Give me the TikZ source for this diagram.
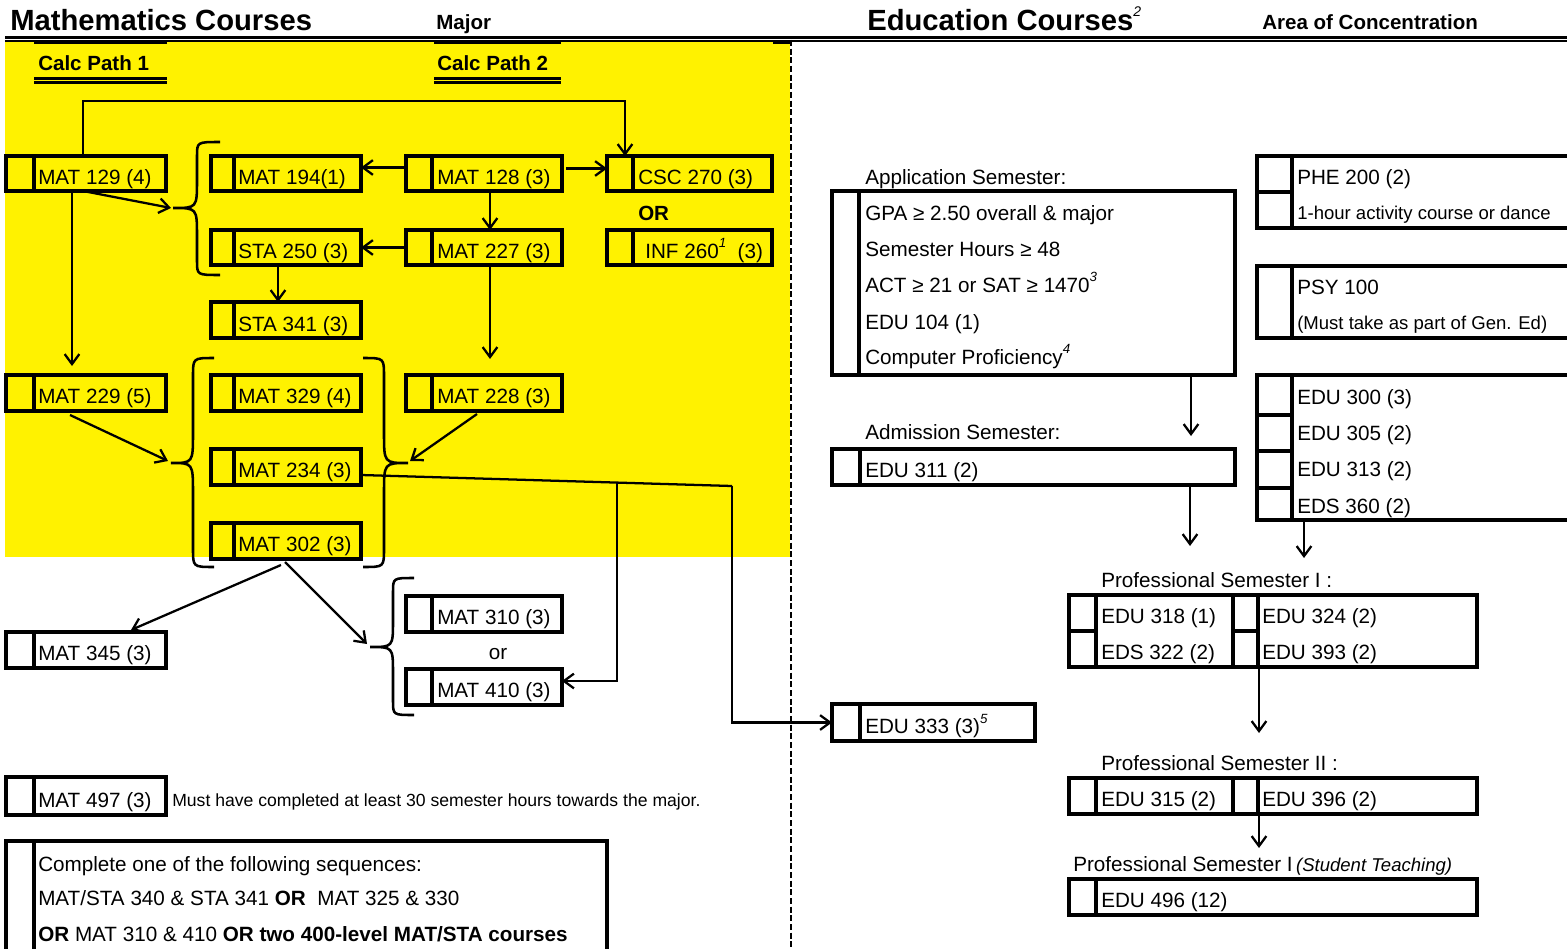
\documentclass[tikz,border=0pt]{standalone}
\usepackage{fontspec}
\setmainfont{Liberation Sans}
\usetikzlibrary{calc,arrows.meta}
\definecolor{hlyellow}{RGB}{255,242,0}
\tikzset{
 cbox/.style={draw, line width=3pt, rectangle, inner sep=0pt, outer sep=0pt, anchor=north west},
 divl/.style={line width=3pt},
 ctxt/.style={font=\fontsize{15.5}{18}\selectfont, inner sep=0pt, anchor=base west},
 stxt/.style={font=\fontsize{13.9}{16}\selectfont, inner sep=0pt, anchor=base west},
 ttl/.style={font=\fontsize{21.9}{24}\selectfont\bfseries, inner sep=0pt, anchor=base west},
 hdr/.style={font=\fontsize{15.4}{18}\selectfont\bfseries, inner sep=0pt, anchor=base west},
 arr/.style={line width=1.7pt, -{Straight Barb[length=7.5pt,width=11pt]}},
 conn/.style={line width=1.7pt},
 brcline/.style={line width=1.9pt},
 hline/.style={line width=1.9pt},
}
\newcommand{\cbx}[6]{%
 \node[cbox, minimum width={(#4-#2-4)*0.75pt}, minimum height={(#5-#3-4)*0.75pt}] (#1) at ({#2+2},{#3+2}) {};
 \draw[divl] ($(#1.north west)+({#6-2},0)$) -- ($(#1.south west)+({#6-2},0)$);}
\newcommand{\mybrace}[8]{%
 \draw[brcline] (#1,#2) .. controls (#4,#2) .. (#4,{#2+#7}) -- (#4,{#6-#8}) .. controls (#4,#6) .. (#5,#6) .. controls (#4,#6) .. (#4,{#6+#8}) -- (#4,{#3-#7}) .. controls (#4,#3) .. (#1,#3);}
\newcommand{\sups}[1]{\raisebox{0.5em}{\fontsize{10}{10}\selectfont\itshape #1}}
\begin{document}
\begin{tikzpicture}[x=0.75pt,y=-0.75pt]
\useasboundingbox (0,0) rectangle (1567,949);
\begin{scope}
\clip (0,0) rectangle (1567,949);
\fill[hlyellow] (5,41) rectangle (790,557);
% header lines
\draw[line width=2.1pt] (5,37.8) -- (1567,37.8);
\draw[line width=1.1pt] (5,41.2) -- (1567,41.2);
\draw[line width=1.6pt, dash pattern=on 4.5pt off 2pt] (791,40) -- (791,949);
% calc path rules
\draw[hline] (34,42.8) -- (167,42.8);
\draw[hline] (34,78.3) -- (167,78.3);
\draw[hline] (34,82.3) -- (167,82.3);
\draw[hline] (434,42.8) -- (561,42.8);
\draw[hline] (434,78.3) -- (561,78.3);
\draw[hline] (434,82.3) -- (561,82.3);
\draw[hline] (773,42.8) -- (790,42.8);
% titles
\node[ttl] (tmath) at (10,31) {Mathematics Courses};
\node[hdr] (tmajor) at (436,30) {Major};
\node[ttl] (tedu) at (867,31) {Education Courses\raisebox{11pt}{\fontsize{10.5}{10.5}\selectfont\mdseries\itshape 2}};
\node[hdr] (tarea) at (1262,30) {Area of Concentration};
\node[hdr] (tcp1) at (38,70.5) {Calc Path 1};
\node[hdr] (tcp2) at (437,70.5) {Calc Path 2};
% math boxes
\cbx{m129}{4}{154}{168}{193}{30}
\cbx{m194}{209}{154}{363}{193}{25}
\cbx{m128}{404}{154}{564}{193}{28}
\cbx{csc}{605}{154}{774}{193}{28}
\cbx{sta250}{209}{228}{363}{267}{25}
\cbx{m227}{404}{228}{564}{267}{28}
\cbx{inf}{605}{228}{774}{267}{28}
\cbx{sta341}{209}{300}{363}{340}{25}
\cbx{m229}{4}{373}{168}{413}{30}
\cbx{m329}{209}{373}{363}{413}{25}
\cbx{m228}{404}{373}{564}{413}{28}
\cbx{m234}{209}{447}{363}{487}{25}
\cbx{m302}{209}{521}{363}{561}{25}
\cbx{m345}{4}{630}{168}{670}{30}
\cbx{m310}{404}{594}{564}{634}{28}
\cbx{m410}{404}{667}{564}{707}{28}
\cbx{m497}{4}{775}{168}{817}{30}
\cbx{seq}{4}{839}{609}{965}{30}
% education boxes
\cbx{app}{830}{189}{1237}{377}{29}
\cbx{e311}{830}{447}{1237}{487}{30}
\cbx{e333}{830}{702}{1037}{743}{30}
\cbx{phe}{1255}{154}{1590}{230}{37}
\cbx{psy}{1255}{264}{1590}{340}{37}
\cbx{stk}{1255}{373}{1590}{522}{37}
\cbx{p1}{1067}{593}{1479}{669}{29}
\cbx{p2}{1067}{776}{1479}{816}{29}
\cbx{p3}{1067}{877}{1479}{917}{29}
\draw[divl] (phe.west) -- ($(phe.west)+(35,0)$);
\draw[divl] ($(stk.north west)+(0,40)$) -- ++(35,0);
\draw[divl] ($(stk.north west)+(0,76)$) -- ++(35,0);
\draw[divl] ($(stk.north west)+(0,113)$) -- ++(35,0);
\draw[divl] ($(p1.north west)+(164,0)$) -- ($(p1.south west)+(164,0)$);
\draw[divl] ($(p1.north west)+(189,0)$) -- ($(p1.south west)+(189,0)$);
\draw[divl] (p1.west) -- ($(p1.west)+(27,0)$);
\draw[divl] ($(p1.west)+(164,0)$) -- ($(p1.west)+(189,0)$);
\draw[divl] ($(p2.north west)+(164,0)$) -- ($(p2.south west)+(164,0)$);
\draw[divl] ($(p2.north west)+(189,0)$) -- ($(p2.south west)+(189,0)$);
% math texts
\node[ctxt] (t129) at (38,184.5) {MAT 129 (4)};
\node[ctxt] (t194) at (238,184.5) {MAT 194(1)};
\node[ctxt] (t128) at (437,184.5) {MAT 128 (3)};
\node[ctxt] (tcsc) at (638,184.5) {CSC 270 (3)};
\node[ctxt] (t250) at (238,258.5) {STA 250 (3)};
\node[ctxt] (t227) at (437,258.5) {MAT 227 (3)};
\node[ctxt] (tinf) at (645,258) {INF 260\sups{1}\ \ (3)};
\node[ctxt] (t341) at (238,331.5) {STA 341 (3)};
\node[ctxt] (t229) at (38,403.5) {MAT 229 (5)};
\node[ctxt] (t329) at (238,403.5) {MAT 329 (4)};
\node[ctxt] (t228) at (437,403.5) {MAT 228 (3)};
\node[ctxt] (t234) at (238,477.5) {MAT 234 (3)};
\node[ctxt] (t302) at (238,551.5) {MAT 302 (3)};
\node[ctxt] (t345) at (38,660.5) {MAT 345 (3)};
\node[ctxt] (t310) at (437,624.5) {MAT 310 (3)};
\node[ctxt] (t410) at (437,697.5) {MAT 410 (3)};
\node[ctxt] (t497) at (38,807) {MAT 497 (3)};
\node[font=\fontsize{13.2}{15}\selectfont, inner sep=0pt, anchor=base west] (tmust) at (172,806) {Must have completed at least 30 semester hours towards the major.};
\node[ctxt] (ts1) at (38,871) {Complete one of the following sequences:};
\node[ctxt] (ts2) at (38,905) {MAT/STA 340 \& STA 341 \textbf{OR}\ \ MAT 325 \& 330};
\node[ctxt] (ts3) at (38,941) {\textbf{OR} MAT 310 \& 410 \textbf{OR two 400-level MAT/STA courses}};
\node[hdr] (tor) at (638,220) {OR};
\node[ctxt, anchor=base] (tor2) at (498,659) {or};
% braces
\mybrace{220}{142}{275}{197}{173}{208}{14}{28}
\mybrace{214}{358}{567}{193}{171}{463}{18}{30}
\mybrace{363}{358}{567}{384}{408}{463}{18}{30}
\mybrace{414}{578}{715}{393}{370}{647}{14}{26}
\coordinate (b1) at (171,208);
\coordinate (b2l) at (168,461);
\coordinate (b2r) at (410,461);
\coordinate (b3) at (367,644);
% math connectors
\draw[arr] ($(m129.north west)+(77,0)$) -- ++(0,-55) -| ($(csc.north west)+(18,0)$);
\draw[arr] ($(m128.west)+(0,-6)$) -- ($(m194.east)+(0,-6)$);
\draw[arr] ($(m128.east)+(4,-5)$) -- ($(csc.west)+(0,-5)$);
\draw[arr] ($(m128.south)+(6,0)$) -- ($(m227.north)+(6,0)$);
\draw[arr] (m227.west) -- (sta250.east);
\draw[arr] ($(sta250.south)+(-8,0)$) -- ($(sta341.north)+(-8,0)$);
\draw[arr] ($(m129.south west)+(66,0)$) -- ($(m229.north west)+(66,-9)$);
\draw[arr] ($(m129.south west)+(77,0)$) -- (b1);
\draw[arr] ($(m227.south)+(6,0)$) -- ($(m228.north)+(6,-16)$);
\draw[arr] ($(m229.south west)+(64,4)$) -- (b2l);
\draw[arr] ($(m228.south west)+(71,3)$) -- (b2r);
\draw[arr] ($(m302.south)+(-5,6)$) -- ($(m345.north east)+(-35,-2)$);
\draw[arr] ($(m302.south)+(-1,3)$) -- (b3);
\coordinate (j1) at (732,486);
\coordinate (j2) at (617,483);
\draw[conn] ($(m234.east)+(0,8)$) -- (j1);
\draw[arr] (j1) |- (e333.west);
\draw[arr] (j2) |- ($(m410.east)+(0,-6)$);
% education texts
\node[ctxt] (tapp) at (865,184) {Application Semester:};
\node[ctxt] (ta1) at (865,220) {GPA ≥ 2.50 overall \& major};
\node[ctxt] (ta2) at (865,256) {Semester Hours ≥ 48};
\node[ctxt] (ta3) at (865,292) {ACT ≥ 21 or SAT ≥ 1470\sups{3}};
\node[ctxt] (ta4) at (865,329) {EDU 104 (1)};
\node[ctxt] (ta5) at (865,364) {Computer Proficiency\sups{4}};
\node[ctxt] (tadm) at (865,439) {Admission Semester:};
\node[ctxt] (t311) at (865,477.5) {EDU 311 (2)};
\node[ctxt] (t333) at (865,733.5) {EDU 333 (3)\sups{5}};
\node[ctxt] (tphe) at (1297,184) {PHE 200 (2)};
\node[stxt] (tact) at (1297,219) {1-hour activity course or dance};
\node[ctxt] (tpsy) at (1297,294) {PSY 100};
\node[stxt] (tgen) at (1297,329) {(Must take as part of Gen. Ed)};
\node[ctxt] (t300) at (1297,404) {EDU 300 (3)};
\node[ctxt] (t305) at (1297,440) {EDU 305 (2)};
\node[ctxt] (t313) at (1297,476) {EDU 313 (2)};
\node[ctxt] (t360) at (1297,513) {EDS 360 (2)};
\node[ctxt] (tp1) at (1101,587) {Professional Semester I :};
\node[ctxt] (t318) at (1101,623) {EDU 318 (1)};
\node[ctxt] (t322) at (1101,659) {EDS 322 (2)};
\node[ctxt] (t324) at (1262,623) {EDU 324 (2)};
\node[ctxt] (t393) at (1262,659) {EDU 393 (2)};
\node[ctxt] (tp2) at (1101,770) {Professional Semester II :};
\node[ctxt] (t315) at (1101,806) {EDU 315 (2)};
\node[ctxt] (t396) at (1262,806) {EDU 396 (2)};
\node[ctxt] (tp3) at (1073,871) {Professional Semester I\,{\fontsize{13.9}{16}\selectfont\itshape (Student Teaching)}};
\node[ctxt] (t496) at (1101,907) {EDU 496 (12)};
% education connectors
\draw[arr] ($(app.south west)+(359,0)$) -- ($(e311.north west)+(359,-13)$);
\draw[arr] ($(e311.south west)+(358,0)$) -- ($(p1.north west)+(121,-49)$);
\draw[arr] ($(stk.south west)+(47,0)$) -- ($(p1.north west)+(235,-37)$);
\draw[arr] ($(p1.south west)+(190,0)$) -- ($(p2.north west)+(190,-45)$);
\draw[arr] ($(p2.south west)+(190,0)$) -- ($(p3.north west)+(190,-31)$);
\end{scope}
\end{tikzpicture}
\end{document}
